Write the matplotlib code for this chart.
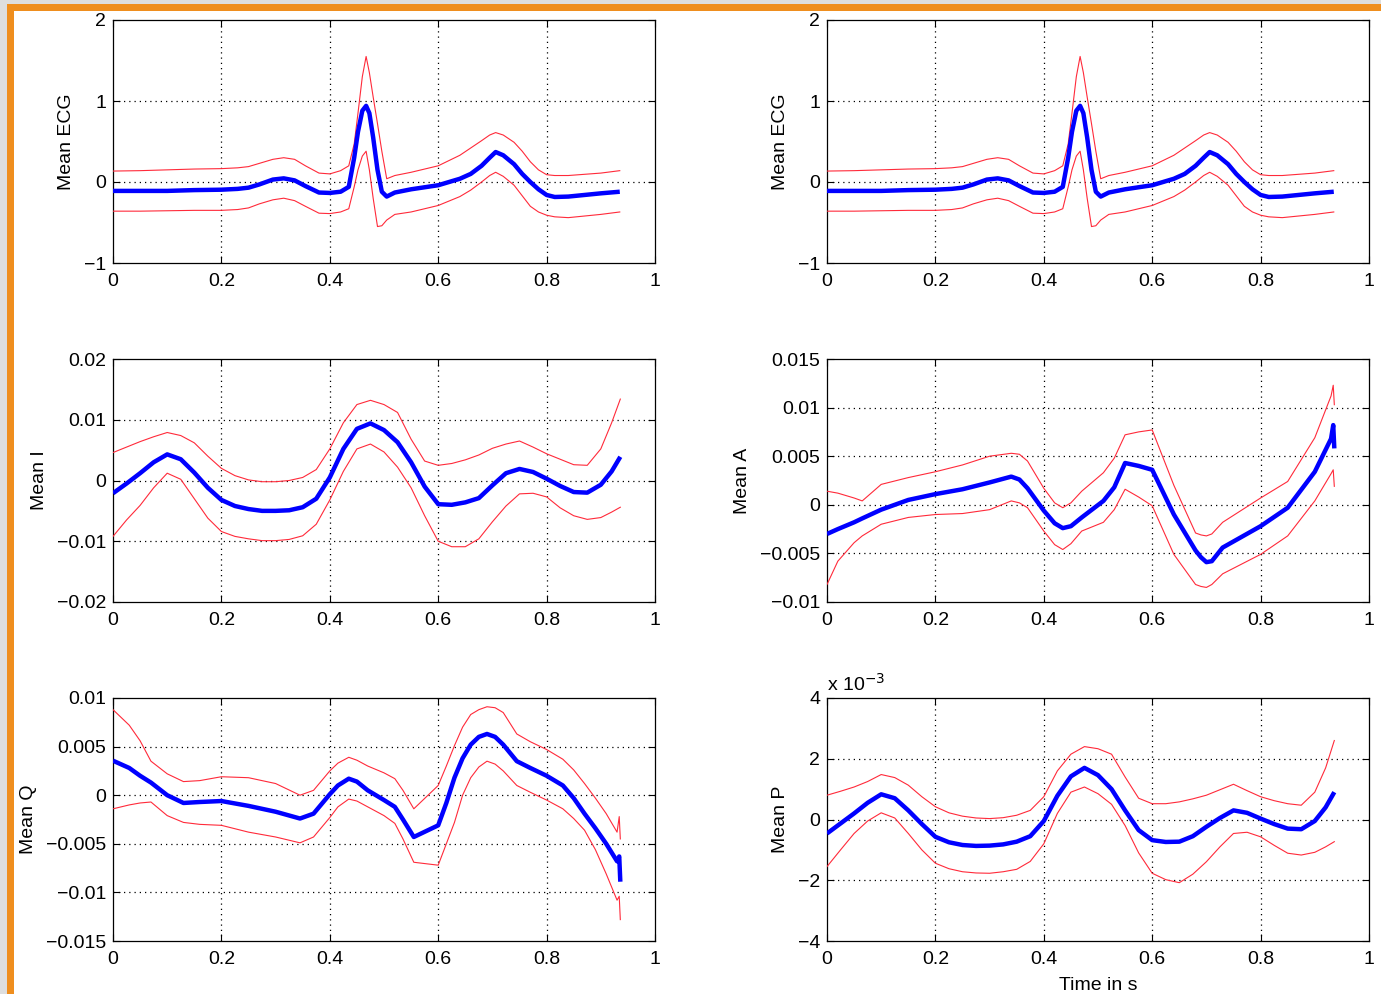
import matplotlib
matplotlib.use("Agg")
import matplotlib.pyplot as plt
from matplotlib.patches import Rectangle

plt.rcParams["font.family"] = ["Liberation Sans", "DejaVu Sans"]
plt.rcParams["axes.unicode_minus"] = True

# ---------------- data (time in s) ----------------
t_ecg = [0.0, 0.05, 0.1, 0.15, 0.2, 0.23, 0.25, 0.27, 0.295, 0.315, 0.335, 0.355, 0.38,
         0.4, 0.42, 0.435, 0.445, 0.452, 0.46, 0.467, 0.473, 0.48, 0.488, 0.496, 0.505,
         0.52, 0.55, 0.6, 0.64, 0.66, 0.68, 0.695, 0.706, 0.72, 0.74, 0.755, 0.77, 0.785,
         0.8, 0.815, 0.84, 0.9, 0.935]
ecg_mean = [-0.11, -0.11, -0.11, -0.10, -0.095, -0.085, -0.07, -0.03, 0.03, 0.045, 0.02,
            -0.05, -0.13, -0.135, -0.12, -0.06, 0.3, 0.62, 0.88, 0.94, 0.85, 0.55, 0.15,
            -0.12, -0.18, -0.13, -0.09, -0.04, 0.04, 0.1, 0.2, 0.3, 0.37, 0.33, 0.22, 0.1,
            0.0, -0.09, -0.16, -0.185, -0.18, -0.14, -0.12]
ecg_upper = [0.135, 0.14, 0.15, 0.16, 0.165, 0.175, 0.19, 0.23, 0.28, 0.3, 0.28, 0.2,
             0.11, 0.1, 0.14, 0.2, 0.47, 0.85, 1.3, 1.55, 1.35, 1.05, 0.72, 0.38, 0.04,
             0.08, 0.12, 0.2, 0.33, 0.42, 0.51, 0.58, 0.61, 0.58, 0.49, 0.38, 0.25, 0.15,
             0.09, 0.08, 0.08, 0.11, 0.14]
ecg_lower = [-0.36, -0.36, -0.355, -0.35, -0.35, -0.34, -0.32, -0.27, -0.22, -0.2, -0.23,
             -0.3, -0.385, -0.39, -0.37, -0.33, -0.06, 0.15, 0.32, 0.38, 0.15, -0.2,
             -0.55, -0.54, -0.47, -0.4, -0.37, -0.29, -0.18, -0.1, 0.0, 0.08, 0.12, 0.07,
             -0.04, -0.17, -0.3, -0.37, -0.41, -0.43, -0.44, -0.4, -0.37]

t_i = [0.0, 0.025, 0.05, 0.075, 0.1, 0.125, 0.15, 0.175, 0.2, 0.225, 0.25, 0.275, 0.3,
       0.325, 0.35, 0.375, 0.4, 0.425, 0.45, 0.475, 0.5, 0.525, 0.55, 0.575, 0.6, 0.625,
       0.65, 0.675, 0.7, 0.725, 0.75, 0.775, 0.8, 0.825, 0.85, 0.875, 0.9, 0.92, 0.936]
i_mean = [-0.0021, -0.0005, 0.0012, 0.003, 0.0043, 0.0035, 0.0013, -0.0012, -0.0032,
          -0.0042, -0.0047, -0.005, -0.005, -0.0049, -0.0044, -0.003, 0.0005, 0.0052,
          0.0085, 0.0094, 0.0083, 0.0063, 0.003, -0.001, -0.0039, -0.004, -0.0036,
          -0.0029, -0.0008, 0.0012, 0.0019, 0.0014, 0.0003, -0.0009, -0.0019, -0.002,
          -0.0007, 0.0015, 0.0039]
i_upper = [0.0046, 0.0055, 0.0064, 0.0072, 0.0079, 0.0074, 0.0062, 0.004, 0.002, 0.0008,
           0.0001, -0.0002, -0.0002, 0.0, 0.0005, 0.0018, 0.0052, 0.0095, 0.0125, 0.0132,
           0.0125, 0.0112, 0.0068, 0.0032, 0.0025, 0.0028, 0.0034, 0.0042, 0.0053, 0.006,
           0.0065, 0.0055, 0.0044, 0.0035, 0.0026, 0.0025, 0.0052, 0.0095, 0.0134]
i_lower = [-0.0092, -0.0065, -0.0041, -0.0012, 0.0012, 0.0002, -0.003, -0.0062, -0.0084,
           -0.0092, -0.0096, -0.0099, -0.0099, -0.0097, -0.0091, -0.0072, -0.0032, 0.0015,
           0.0052, 0.006, 0.0047, 0.0022, -0.0012, -0.0058, -0.01, -0.0109, -0.0109,
           -0.0096, -0.0068, -0.0042, -0.0022, -0.0021, -0.0027, -0.0045, -0.0058,
           -0.0064, -0.0061, -0.0052, -0.0044]

t_a = [0.0, 0.02, 0.05, 0.065, 0.1, 0.15, 0.2, 0.25, 0.3, 0.34, 0.355, 0.37, 0.4, 0.42,
       0.435, 0.45, 0.47, 0.51, 0.53, 0.55, 0.575, 0.6, 0.64, 0.68, 0.69, 0.7, 0.71, 0.73,
       0.8, 0.85, 0.9, 0.93, 0.934, 0.936]
a_mean = [-0.003, -0.0025, -0.0018, -0.0014, -0.0005, 0.0005, 0.0011, 0.0016, 0.0023,
          0.0029, 0.0026, 0.0017, -0.0006, -0.0019, -0.0024, -0.0022, -0.0013, 0.0004,
          0.0018, 0.0043, 0.004, 0.0036, -0.001, -0.0047, -0.0054, -0.0059, -0.0058,
          -0.0044, -0.0022, -0.0003, 0.0034, 0.0068, 0.0082, 0.0058]
a_upper = [0.0014, 0.0012, 0.0007, 0.0004, 0.0021, 0.0028, 0.0034, 0.0041, 0.005, 0.0053,
           0.0052, 0.0045, 0.0017, 0.0002, -0.0003, 0.0002, 0.0014, 0.0033, 0.0048,
           0.0072, 0.0075, 0.0077, 0.002, -0.0029, -0.0031, -0.0032, -0.003, -0.0018,
           0.0007, 0.0024, 0.0069, 0.0112, 0.0123, 0.0103]
a_lower = [-0.0082, -0.0058, -0.0039, -0.0032, -0.002, -0.0013, -0.001, -0.0009, -0.0005,
           0.0004, 0.0002, -0.0003, -0.0027, -0.0041, -0.0046, -0.004, -0.0027, -0.0018,
           -0.0005, 0.0016, 0.0008, -0.0001, -0.0051, -0.0082, -0.0084, -0.0085, -0.0082,
           -0.0071, -0.0051, -0.0032, 0.0004, 0.0032, 0.0036, 0.0019]

t_q = [0.0, 0.03, 0.05, 0.07, 0.1, 0.13, 0.16, 0.2, 0.25, 0.3, 0.345, 0.37, 0.4, 0.415,
       0.435, 0.45, 0.47, 0.5, 0.52, 0.535, 0.555, 0.6, 0.615, 0.63, 0.645, 0.66, 0.675,
       0.69, 0.705, 0.72, 0.745, 0.77, 0.8, 0.83, 0.85, 0.87, 0.89, 0.91, 0.93, 0.934,
       0.936]
q_mean = [0.00355, 0.0028, 0.002, 0.0013, 0.0, -0.0008, -0.0007, -0.0006, -0.0011,
          -0.0017, -0.0024, -0.0019, 0.0001, 0.001, 0.0017, 0.0014, 0.0005, -0.0005,
          -0.0012, -0.0025, -0.0043, -0.0031, -0.0008, 0.0018, 0.0038, 0.0052, 0.006,
          0.0063, 0.006, 0.0052, 0.0035, 0.0028, 0.002, 0.001, -0.0003, -0.0019, -0.0034,
          -0.005, -0.0068, -0.0063, -0.0089]
q_upper = [0.0088, 0.0072, 0.0056, 0.0035, 0.0022, 0.0014, 0.0015, 0.0019, 0.0018, 0.0012,
           0.0, 0.0005, 0.0025, 0.0033, 0.0039, 0.0036, 0.003, 0.0023, 0.0017, 0.0005,
           -0.0014, 0.001, 0.003, 0.0051, 0.007, 0.0083, 0.0088, 0.0091, 0.009, 0.0085,
           0.0063, 0.0055, 0.0047, 0.0037, 0.0026, 0.0012, -0.0003, -0.0019, -0.0038,
           -0.0022, -0.0045]
q_lower = [-0.0014, -0.001, -0.0008, -0.0007, -0.0021, -0.0028, -0.003, -0.0031, -0.0038,
           -0.0043, -0.0049, -0.0043, -0.0023, -0.0012, -0.0004, -0.0006, -0.0012, -0.0021,
           -0.0029, -0.0045, -0.0069, -0.0072, -0.005, -0.0028, 0.0, 0.0018, 0.0029,
           0.0035, 0.0032, 0.0025, 0.001, 0.0003, -0.0005, -0.0014, -0.0024, -0.0036,
           -0.0056, -0.0081, -0.0108, -0.0104, -0.0128]

# Mean P values are in units of 1e-3
t_p = t_i
p_mean = [-0.46, -0.13, 0.2, 0.55, 0.83, 0.7, 0.3, -0.15, -0.57, -0.75, -0.84, -0.87,
          -0.86, -0.82, -0.73, -0.55, -0.05, 0.78, 1.42, 1.7, 1.46, 1.0, 0.3, -0.35,
          -0.68, -0.74, -0.73, -0.55, -0.24, 0.05, 0.3, 0.22, 0.03, -0.15, -0.3, -0.32,
          -0.05, 0.4, 0.9]
p_upper = [0.8, 0.93, 1.07, 1.25, 1.48, 1.38, 1.13, 0.75, 0.42, 0.22, 0.11, 0.05, 0.03,
           0.06, 0.14, 0.3, 0.75, 1.6, 2.15, 2.4, 2.33, 2.15, 1.4, 0.7, 0.52, 0.52, 0.58,
           0.68, 0.8, 0.98, 1.16, 0.95, 0.75, 0.62, 0.52, 0.47, 0.9, 1.7, 2.6]
p_lower = [-1.55, -1.0, -0.46, -0.05, 0.22, 0.05, -0.46, -1.0, -1.44, -1.62, -1.72, -1.76,
           -1.77, -1.72, -1.64, -1.38, -0.8, 0.2, 0.9, 1.07, 0.85, 0.5, -0.2, -1.1, -1.77,
           -1.98, -2.08, -1.8, -1.39, -0.9, -0.46, -0.42, -0.57, -0.85, -1.11, -1.17,
           -1.08, -0.9, -0.73]

x_ticks = [0, 0.2, 0.4, 0.6, 0.8, 1]
x_tick_labels = ["0", "0.2", "0.4", "0.6", "0.8", "1"]

ecg_ticks = [-1, 0, 1, 2]
ecg_labels = ["\u22121", "0", "1", "2"]
i_ticks = [-0.02, -0.01, 0, 0.01, 0.02]
i_labels = ["\u22120.02", "\u22120.01", "0", "0.01", "0.02"]
a_ticks = [-0.01, -0.005, 0, 0.005, 0.01, 0.015]
a_labels = ["\u22120.01", "\u22120.005", "0", "0.005", "0.01", "0.015"]
q_ticks = [-0.015, -0.01, -0.005, 0, 0.005, 0.01]
q_labels = ["\u22120.015", "\u22120.01", "\u22120.005", "0", "0.005", "0.01"]
p_ticks = [-4, -2, 0, 2, 4]
p_labels = ["\u22124", "\u22122", "0", "2", "4"]

# ---------------- figure ----------------
W, H = 1381, 994
fig = plt.figure(figsize=(W / 100, H / 100), dpi=100)
fig.patch.set_facecolor("#dedede")

# page frame: orange border on the left and top, white page inside
fig.add_artist(Rectangle((7 / W, 0), 1, 1 - 4 / H, transform=fig.transFigure,
                         facecolor="#ef8e1e", edgecolor="none", zorder=-10))
fig.add_artist(Rectangle((14 / W, 0), 1, 1 - 11 / H, transform=fig.transFigure,
                         facecolor="white", edgecolor="none", zorder=-9))

col_x = [113 / W, 827 / W]
row_y = [1 - 263 / H, 1 - 602 / H, 1 - 941 / H]
aw, ah = 542 / W, 243 / H

panels = [
    (0, 0, t_ecg, ecg_mean, ecg_upper, ecg_lower, (-1, 2), ecg_ticks, ecg_labels, "Mean ECG"),
    (0, 1, t_ecg, ecg_mean, ecg_upper, ecg_lower, (-1, 2), ecg_ticks, ecg_labels, "Mean ECG"),
    (1, 0, t_i, i_mean, i_upper, i_lower, (-0.02, 0.02), i_ticks, i_labels, "Mean I"),
    (1, 1, t_a, a_mean, a_upper, a_lower, (-0.01, 0.015), a_ticks, a_labels, "Mean A"),
    (2, 0, t_q, q_mean, q_upper, q_lower, (-0.015, 0.01), q_ticks, q_labels, "Mean Q"),
    (2, 1, t_p, p_mean, p_upper, p_lower, (-4, 4), p_ticks, p_labels, "Mean P"),
]

grid_style = dict(color="black", linestyle=(0, (1, 3.2)), linewidth=0.9)

for row, col, t, m, up, lo, ylim, yt, ytl, ylab in panels:
    ax = fig.add_axes([col_x[col], row_y[row], aw, ah])
    ax.plot(t, up, color="#ff2a3a", linewidth=0.8, zorder=3, solid_joinstyle="round")
    ax.plot(t, lo, color="#ff2a3a", linewidth=0.8, zorder=3, solid_joinstyle="round")
    ax.plot(t, m, color="#0000ff", linewidth=3.2, zorder=4, solid_capstyle="butt",
            solid_joinstyle="round")
    ax.set_xlim(0, 1)
    ax.set_ylim(*ylim)
    ax.set_xticks(x_ticks)
    ax.set_xticklabels(x_tick_labels)
    ax.set_yticks(yt)
    ax.set_yticklabels(ytl)
    for v in x_ticks[1:-1]:
        ax.axvline(v, zorder=1, **grid_style)
    for v in yt[1:-1]:
        ax.axhline(v, zorder=1, **grid_style)
    ax.tick_params(direction="in", length=5, width=0.8, top=True, right=True,
                   labelsize=14, colors="black", pad=5)
    ax.tick_params(axis="x", pad=7)
    for s in ax.spines.values():
        s.set_linewidth(0.9)
        s.set_color("black")
    ax.set_ylabel(ylab, fontsize=14, labelpad=6)
    if ylab == "Mean P":
        ax.text(0.0, 1.015, r"x 10$^{-3}$", transform=ax.transAxes, fontsize=14,
                ha="left", va="bottom")
        ax.set_xlabel("Time in s", fontsize=14, labelpad=7)

fig.savefig("out.png", dpi=100)
